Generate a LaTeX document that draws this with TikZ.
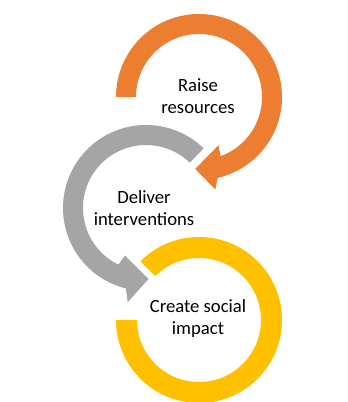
\documentclass[tikz,border=0pt]{standalone}
\usepackage{fontspec}
\setmainfont{Carlito}
\usetikzlibrary{positioning}
\definecolor{cycorange}{HTML}{ED7D31}
\definecolor{cycgray}{HTML}{A5A5A5}
\definecolor{cycyellow}{HTML}{FFC000}

\begin{document}
\begin{tikzpicture}[x=0.75pt, y=0.75pt,
    steplabel/.style={align=center, text=black,
                      font=\fontsize{14}{16.5}\selectfont}]
  \useasboundingbox (0,0) rectangle (347,402);

  % ring centres
  \coordinate (raise) at (199,305);
  \coordinate (deliver) at (146,194);
  \coordinate (impact) at (199,82);

  % orange ring with arrow head
  \begin{scope}[shift={(raise)}]
    \fill[cycorange] (180:83) arc[start angle=180, end angle=-77, radius=83]
      -- (-80:94) -- (-93:72) -- (-68:52) -- (-70:63)
      arc[start angle=-70, end angle=180, radius=63] -- cycle;
  \end{scope}

  % gray ring with arrow head
  \begin{scope}[shift={(deliver)}]
    \fill[cycgray] (46:83) arc[start angle=46, end angle=256, radius=83]
      -- (259:96) -- (272:71) -- (246:52) -- (244:63)
      arc[start angle=244, end angle=46, radius=63] -- cycle;
  \end{scope}

  % yellow ring
  \begin{scope}[shift={(impact)}]
    \fill[cycyellow] (135:83) arc[start angle=135, end angle=-180, radius=83]
      -- (180:62) arc[start angle=-180, end angle=135, radius=62] -- cycle;
  \end{scope}

  \node[steplabel] (raisetext) at (198,306) {Raise\\resources};
  \node[steplabel] (delivertext) at (144,194) {Deliver\\interventions};
  \node[steplabel] (impacttext) at (198,83) {Create social\\impact};
\end{tikzpicture}
\end{document}
